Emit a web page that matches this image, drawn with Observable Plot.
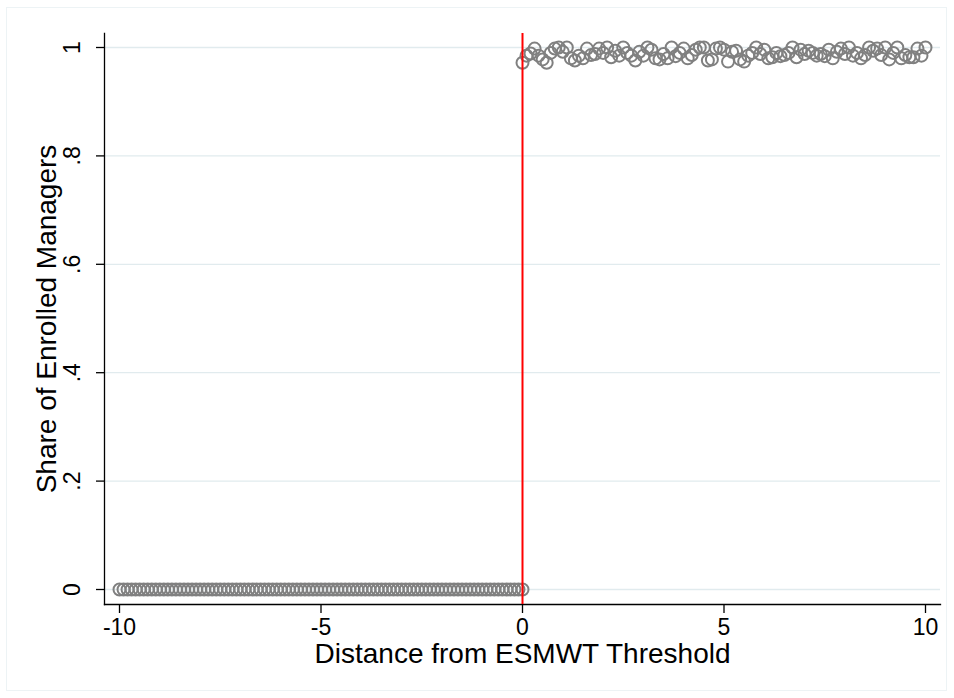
<!DOCTYPE html>
<html>
<head>
<meta charset="utf-8">
<script src="https://cdn.jsdelivr.net/npm/d3@7"></script>
<script src="https://cdn.jsdelivr.net/npm/@observablehq/plot@0.6"></script>
<style>
  html, body { margin: 0; padding: 0; background: #fff; }
  #wrap { position: relative; width: 954px; height: 698px; }
  #border { position: absolute; left: 6px; top: 7px; width: 941px; height: 684px; border: 1px solid #edf3f5; box-sizing: border-box; pointer-events: none; }
  #chart { position: absolute; left: 0; top: 0; }
</style>
</head>
<body>
<div id="wrap"><div id="chart"></div><div id="border"></div></div>
<script>
// Bin grid (distance from threshold, step 0.1)
const binStep = 0.1;
const leftBins = d3.range(-100, 1).map(i => i * binStep);   // -10 .. 0
const rightBins = d3.range(0, 101).map(i => i * binStep);   // 0 .. 10

// Share of enrolled managers below the threshold (all zero)
const leftShare = [
  0,0,0,0,0,0,0,0,0,0, 0,0,0,0,0,0,0,0,0,0,
  0,0,0,0,0,0,0,0,0,0, 0,0,0,0,0,0,0,0,0,0,
  0,0,0,0,0,0,0,0,0,0, 0,0,0,0,0,0,0,0,0,0,
  0,0,0,0,0,0,0,0,0,0, 0,0,0,0,0,0,0,0,0,0,
  0,0,0,0,0,0,0,0,0,0, 0,0,0,0,0,0,0,0,0,0,
  0
];

// Share of enrolled managers at/above the threshold
const rightShare = [
  0.972,0.985,0.989,0.998,0.985,0.978,0.972,0.990,0.998,1.000,
  0.992,1.000,0.980,0.976,0.985,0.980,0.998,0.986,0.988,0.998,
  0.990,1.000,0.982,0.994,0.985,1.000,0.990,0.985,0.976,0.992,
  0.985,1.000,0.996,0.980,0.978,0.988,0.980,1.000,0.984,0.990,
  0.998,0.980,0.986,0.996,1.000,1.000,0.976,0.978,0.998,1.000,
  0.996,0.974,0.992,0.994,0.978,0.974,0.985,0.990,1.000,0.988,
  0.996,0.980,0.982,0.990,0.984,0.986,0.990,1.000,0.982,0.996,
  0.988,0.994,0.990,0.985,0.988,0.984,0.996,0.980,0.992,0.998,
  0.988,1.000,0.985,0.990,0.980,0.986,1.000,0.994,0.998,0.986,
  1.000,0.978,0.990,1.000,0.980,0.986,0.982,0.982,0.998,0.985,
  1.000
];

const xTicks = [-10, -5, 0, 5, 10];
const yTicks = [0, 0.2, 0.4, 0.6, 0.8, 1];
const yTickLabels = ["0", ".2", ".4", ".6", ".8", "1"];
const xTitle = "Distance from ESMWT Threshold";
const yTitle = "Share of Enrolled Managers";

const points = [
  ...leftBins.map((d, i) => ({x: d, y: leftShare[i]})),
  ...rightBins.map((d, i) => ({x: d, y: rightShare[i]}))
];

const font = "'Liberation Sans', Arial, Helvetica, sans-serif";

const chart = Plot.plot({
  width: 954,
  height: 698,
  marginLeft: 104,
  marginRight: 14,
  marginTop: 33,
  marginBottom: 94,
  style: {fontFamily: font, background: "transparent", color: "#000"},
  x: {domain: [-10, 10], insetLeft: 15, insetRight: 15},
  y: {domain: [0, 1], insetTop: 14, insetBottom: 15},
  marks: [
    Plot.gridY(yTicks, {stroke: "#e1ebee", strokeOpacity: 1, strokeWidth: 1.3}),
    Plot.frame({anchor: "left", stroke: "#000", strokeWidth: 1.3}),
    Plot.frame({anchor: "bottom", stroke: "#000", strokeWidth: 1.3}),
    Plot.axisY(yTicks, {
      tickSize: 8, tickPadding: 17, tickRotate: -90, fontSize: 23,
      stroke: "#000", strokeWidth: 1.3,
      tickFormat: d => yTickLabels[yTicks.indexOf(d)], label: null
    }),
    Plot.axisX(xTicks, {
      tickSize: 9, tickPadding: 5, fontSize: 23,
      stroke: "#000", strokeWidth: 1.3,
      tickFormat: d => String(d), label: null
    }),
    Plot.dot(points, {x: "x", y: "y", r: 6, stroke: "#808080", strokeWidth: 2, fill: "none"}),
    Plot.ruleX([0], {stroke: "#ff0000", strokeWidth: 2}),
    Plot.text([xTitle], {frameAnchor: "bottom", dy: 58, fontSize: 28, fill: "#000", text: d => d}),
    Plot.text([yTitle], {frameAnchor: "left", textAnchor: "middle", dx: -57, rotate: -90, fontSize: 28, fill: "#000", text: d => d})
  ]
});
document.getElementById("chart").appendChild(chart);
</script>
</body>
</html>
